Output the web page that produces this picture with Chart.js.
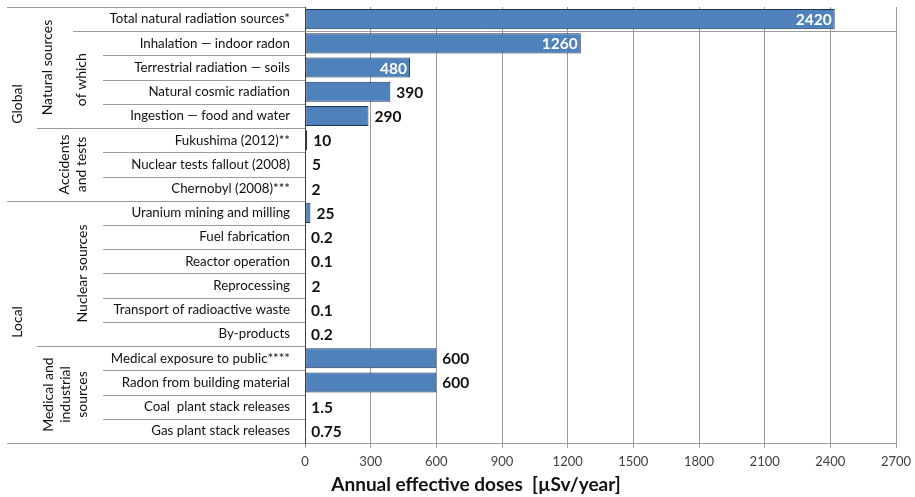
<!DOCTYPE html>
<html><head><meta charset="utf-8">
<script src="https://cdn.jsdelivr.net/npm/chart.js@4.4.0/dist/chart.umd.min.js"></script>
<style>html,body{margin:0;padding:0;background:#fff;} #wrap{width:915px;height:497px;position:relative;}</style>
</head><body><div id="wrap"><canvas id="c" width="915" height="497"></canvas></div>
<script>
const categories = [
  "Total natural radiation sources*",
  "Inhalation \u2014 indoor radon",
  "Terrestrial radiation \u2014 soils",
  "Natural cosmic radiation",
  "Ingestion \u2014 food and water",
  "Fukushima (2012)**",
  "Nuclear tests fallout (2008)",
  "Chernobyl (2008)***",
  "Uranium mining and milling",
  "Fuel fabrication",
  "Reactor operation",
  "Reprocessing",
  "Transport of radioactive waste",
  "By-products",
  "Medical exposure to public****",
  "Radon from building material",
  "Coal  plant stack releases",
  "Gas plant stack releases"
];
const doses = [2420, 1260, 480, 390, 290, 10, 5, 2, 25, 0.2, 0.1, 2, 0.1, 0.2, 600, 600, 1.5, 0.75];
const doseLabels = ["2420","1260","480","390","290","10","5","2","25","0.2","0.1","2","0.1","0.2","600","600","1.5","0.75"];
const xTickValues = [0, 300, 600, 900, 1200, 1500, 1800, 2100, 2400, 2700];
const axisTitle = "Annual effective doses  [\u00b5Sv/year]";
const level1Groups = [
  { lines: ["Global"], from: 0, to: 7 },
  { lines: ["Local"], from: 8, to: 17 }
];
const level2Groups = [
  { lines: ["Natural sources"], from: 0, to: 4 },
  { lines: ["Accidents", "and tests"], from: 5, to: 7 },
  { lines: ["Nuclear sources"], from: 8, to: 13 },
  { lines: ["Medical and", "industrial", "sources"], from: 14, to: 17 }
];
const level3Groups = [
  { lines: ["of which"], from: 1, to: 4 }
];

const FONT = "Lato, 'Noto Sans', sans-serif";
const LINE = "#9c9c9c";
// rows whose value label sits inside the bar end (white)
const insideLabelRows = [0, 1, 2];
// x-centres of the group label columns (layout)
const groupX = {
  l1: [17, 17],
  l2: [47, 73, 82, 65],
  l3: [81]
};

const groupPlugin = {
  id: 'groups',
  beforeDatasetsDraw(chart) {
    const ctx = chart.ctx, ca = chart.chartArea;
    const n = categories.length;
    const rowH = (ca.bottom - ca.top) / n;
    ctx.save();
    ctx.strokeStyle = LINE;
    ctx.lineWidth = 1;
    const hline = (x1, x2, y) => {
      const yy = Math.round(y) + 0.5;
      ctx.beginPath(); ctx.moveTo(x1, yy); ctx.lineTo(x2, yy); ctx.stroke();
    };
    hline(7, ca.left, ca.top);
    const l1b = level1Groups.map(g => g.from).filter(v => v > 0);
    const l2b = level2Groups.map(g => g.from).filter(v => v > 0);
    const l3b = level3Groups.map(g => g.from).filter(v => v > 0);
    for (let k = 1; k < n; k++) {
      const y = ca.top + rowH * k;
      let x1 = 103, x2 = ca.left;
      if (l1b.includes(k)) x1 = 7;
      else if (l2b.includes(k)) x1 = 37;
      else if (l3b.includes(k)) { x1 = 73; x2 = ca.right; }
      hline(x1, x2, y);
    }
    hline(7, ca.left, ca.bottom);
    ctx.restore();
  },
  afterDatasetsDraw(chart) {
    const ctx = chart.ctx, ca = chart.chartArea;
    const n = categories.length;
    const rowH = (ca.bottom - ca.top) / n;
    ctx.save();
    ctx.fillStyle = "#111111";
    ctx.font = "14px " + FONT;
    ctx.textAlign = "center";
    ctx.textBaseline = "middle";
    const drawGroup = (g, cx) => {
      const cy = ca.top + rowH * (g.from + g.to + 1) / 2;
      const lh = 17;
      ctx.save();
      ctx.translate(cx, cy);
      ctx.rotate(-Math.PI / 2);
      g.lines.forEach((t, i) => {
        ctx.fillText(t, 0, (i - (g.lines.length - 1) / 2) * lh);
      });
      ctx.restore();
    };
    level1Groups.forEach((g, i) => drawGroup(g, groupX.l1[i]));
    level2Groups.forEach((g, i) => drawGroup(g, groupX.l2[i]));
    level3Groups.forEach((g, i) => drawGroup(g, groupX.l3[i]));

    const meta = chart.getDatasetMeta(0);
    ctx.font = "bold 15.5px " + FONT;
    ctx.textBaseline = "middle";
    meta.data.forEach((bar, i) => {
      if (insideLabelRows.includes(i)) {
        ctx.fillStyle = "#ffffff";
        ctx.textAlign = "right";
        ctx.fillText(doseLabels[i], bar.x - 3, bar.y + 1);
      } else {
        ctx.fillStyle = "#111111";
        ctx.textAlign = "left";
        ctx.fillText(doseLabels[i], bar.x + 6, bar.y + 1);
      }
    });

    ctx.fillStyle = "#111111";
    ctx.font = "bold 19px " + FONT;
    ctx.textAlign = "center";
    ctx.textBaseline = "middle";
    ctx.fillText(axisTitle, 476, 485);
    ctx.restore();
  }
};

new Chart(document.getElementById('c'), {
  type: 'bar',
  data: {
    labels: categories,
    datasets: [{
      data: doses,
      backgroundColor: '#4f81bd',
      borderColor: '#1f3550',
      borderWidth: 1,
      borderSkipped: false,
      barPercentage: 0.83,
      categoryPercentage: 1
    }]
  },
  options: {
    indexAxis: 'y',
    responsive: false,
    animation: false,
    maintainAspectRatio: false,
    layout: { padding: { top: 7, right: 19, left: 0, bottom: 0 } },
    plugins: { legend: { display: false }, tooltip: { enabled: false } },
    scales: {
      x: {
        min: 0, max: 2700,
        afterBuildTicks(scale) { scale.ticks = xTickValues.map(v => ({ value: v })); },
        afterFit(scale) { scale.height = 54; scale.paddingLeft = 0; scale.paddingRight = 0; },
        ticks: { color: '#404040', font: { family: FONT, size: 13 }, padding: 6, maxRotation: 0, autoSkip: false,
                 callback: (v) => String(v) },
        grid: { color: LINE, tickLength: 5, drawTicks: true },
        border: { color: LINE }
      },
      y: {
        afterFit(scale) { scale.width = 305; scale.paddingTop = 0; scale.paddingBottom = 0; },
        ticks: { color: '#111111', font: { family: FONT, size: 13.3 }, padding: 15, autoSkip: false },
        grid: { display: false, drawTicks: false },
        border: { display: true, color: '#404040', width: 1 }
      }
    }
  },
  plugins: [groupPlugin]
});
</script>
</body></html>
